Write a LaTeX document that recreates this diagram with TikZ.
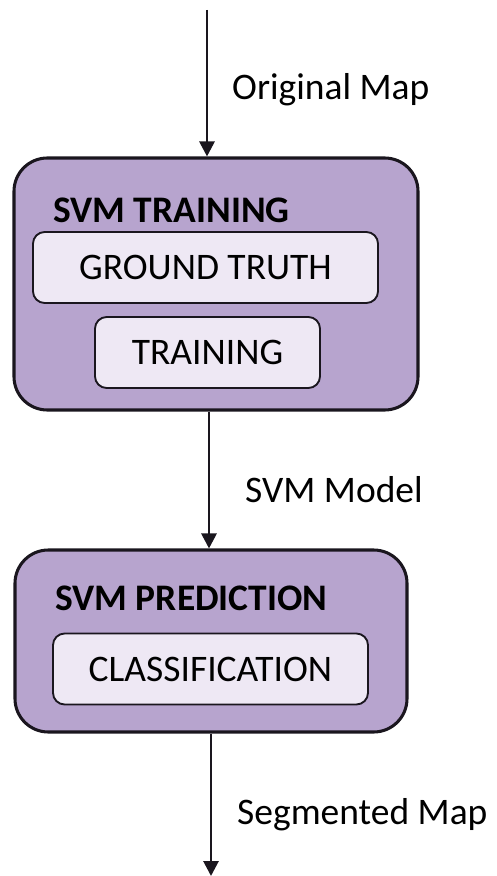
\documentclass[tikz,border=0pt]{standalone}
\usepackage{fontspec}
\setmainfont{Carlito}
\usetikzlibrary{arrows.meta}

\definecolor{outerfill}{RGB}{183,164,206}
\definecolor{innerfill}{RGB}{238,232,244}
\definecolor{edge}{RGB}{26,22,30}

\begin{document}
\begin{tikzpicture}[x=0.03cm,y=-0.03cm,
		outerbox/.style={draw=edge,fill=outerfill,line width=2.6pt,rounded corners=1cm},
		innerbox/.style={draw=edge,fill=innerfill,line width=1.6pt,rounded corners=0.35cm,
			minimum height=2.13cm,font=\fontsize{32}{36}\selectfont,inner sep=0pt},
		flow/.style={draw=edge,line width=2.4pt,-{Triangle[length=4.5mm,width=4.5mm]}},
		lbl/.style={anchor=west,font=\fontsize{32}{36}\selectfont,inner sep=0pt},
		title/.style={anchor=west,font=\fontsize{32}{36}\selectfont\bfseries,inner sep=0pt}]
	\useasboundingbox (0,0) rectangle (496,876);
	% training stage
	\node[outerbox,minimum width=12.12cm,minimum height=7.56cm] (train) at (216,284) {};
	\node[title] (traintitle) at (53,210) {SVM TRAINING};
	\node[innerbox,minimum width=10.35cm] (truth) at (205.5,267.5) {GROUND TRUTH};
	\node[innerbox,minimum width=6.75cm] (learn) at (207.5,352.5) {TRAINING};
	% prediction stage
	\node[outerbox,minimum width=11.76cm,minimum height=5.46cm] (predict) at (211,641) {};
	\node[title] (predtitle) at (55,598) {SVM PREDICTION};
	\node[innerbox,minimum width=9.45cm] (classify) at (210.5,669) {CLASSIFICATION};
	% arrows
	\coordinate (input) at (207,10);
	\coordinate (model) at (209,480);
	\coordinate (output) at (211,876);
	\draw[flow] (input) -- (input |- train.north);
	\draw[flow] (model |- train.south) -- (model |- predict.north);
	\draw[flow] (output |- predict.south) -- (output);
	\node[lbl] (maplabel) at (232,90) {Original Map};
	\node[lbl] (modellabel) at (245,490) {SVM Model};
	\node[lbl] (seglabel) at (237,815) {Segmented Map};
\end{tikzpicture}
\end{document}
